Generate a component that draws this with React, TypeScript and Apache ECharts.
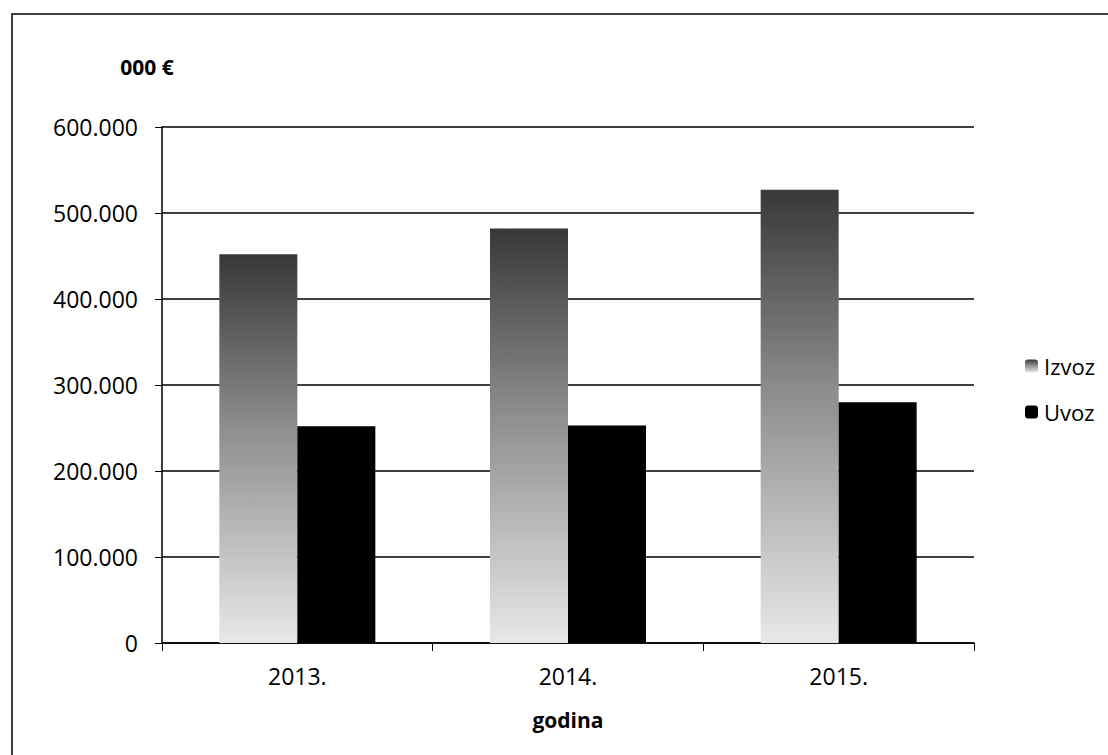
import React, { useEffect, useRef } from "react";
import * as echarts from "echarts";

const categories = ["2013.", "2014.", "2015."];
const izvoz = [452000, 482000, 527000];
const uvoz = [252000, 253000, 280000];
const yTicks = { min: 0, max: 600000, interval: 100000 };

const fmt = (v: number) => String(Math.round(v)).replace(/\B(?=(\d{3})+(?!\d))/g, ".");

const FONT = "'Open Sans', 'Noto Sans', sans-serif";

export default function App() {
  const ref = useRef<HTMLDivElement>(null);
  useEffect(() => {
    if (!ref.current) return;
    const chart = echarts.init(ref.current, null, { renderer: "svg" });
    const grad = new echarts.graphic.LinearGradient(0, 0, 0, 1, [
      { offset: 0, color: "#383838" },
      { offset: 0.45, color: "#8e8e8e" },
      { offset: 1, color: "#e8e8e8" },
    ]);
    chart.setOption({
      animation: false,
      backgroundColor: "#ffffff",
      textStyle: { fontFamily: FONT, color: "#000" },
      graphic: [
        {
          type: "rect",
          shape: { x: 12, y: 14, width: 1120, height: 760 },
          style: { fill: "none", stroke: "#000", lineWidth: 1.5 },
          silent: true,
        },
      ],
      grid: { left: 162, right: 134, top: 127, bottom: 112, containLabel: false },
      legend: {
        orient: "vertical",
        left: 1020,
        top: 350,
        itemWidth: 13,
        itemHeight: 13,
        itemGap: 24,
        textStyle: { fontSize: 22, fontFamily: FONT, color: "#000", padding: [0, 0, 0, 1] },
        data: ["Izvoz", "Uvoz"],
      },
      xAxis: {
        type: "category",
        data: categories,
        name: "godina",
        nameLocation: "middle",
        nameGap: 66,
        nameTextStyle: { fontSize: 21, fontWeight: "bold", fontFamily: FONT, color: "#000" },
        axisLine: { show: true, lineStyle: { color: "#000", width: 1.5 } },
        axisTick: { show: true, length: 8, lineStyle: { color: "#000" } },
        axisLabel: { fontSize: 23, margin: 21, color: "#000", fontFamily: FONT },
      },
      yAxis: {
        type: "value",
        min: yTicks.min,
        max: yTicks.max,
        interval: yTicks.interval,
        name: "000 €",
        nameLocation: "end",
        nameGap: 50,
        nameTextStyle: { fontSize: 21, fontWeight: "bold", fontFamily: FONT, color: "#000", padding: [0, 30, 0, 0] },
        axisLine: { show: true, lineStyle: { color: "#000", width: 1.5 } },
        axisTick: { show: true, length: 7, lineStyle: { color: "#000" } },
        splitLine: { show: true, lineStyle: { color: "#000", width: 1.5 } },
        axisLabel: { fontSize: 23, margin: 24, color: "#000", fontFamily: FONT, formatter: fmt },
      },
      series: [
        {
          name: "Izvoz",
          type: "bar",
          data: izvoz,
          barWidth: 78,
          barGap: "0%",
          itemStyle: { color: grad },
        },
        {
          name: "Uvoz",
          type: "bar",
          data: uvoz,
          barWidth: 78,
          itemStyle: { color: "#000" },
        },
      ],
    });
    return () => chart.dispose();
  }, []);
  return (
    <div
      ref={ref}
      style={{ position: "fixed", left: 0, top: 0, width: 1108, height: 755, background: "#fff" }}
    />
  );
}
